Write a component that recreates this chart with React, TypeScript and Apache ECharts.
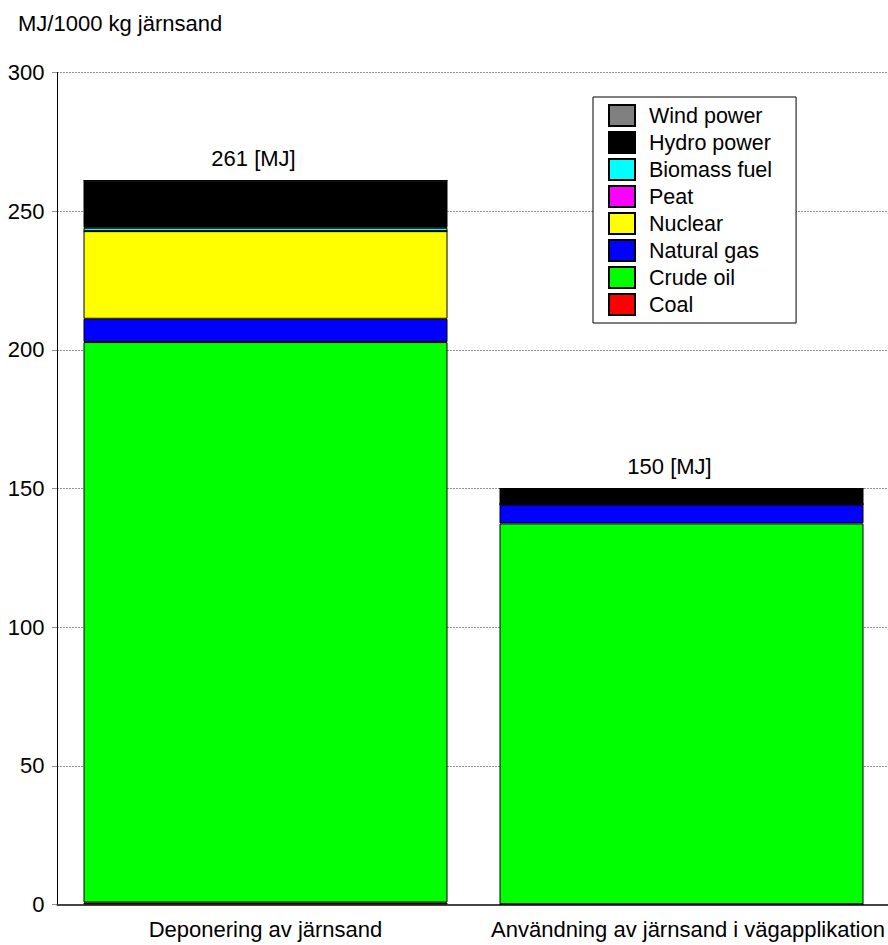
import React, { useEffect, useRef } from "react";
import * as echarts from "echarts";

// Energy use per 1000 kg of iron sand, split by energy source (MJ)
const categories = [
  "Deponering av järnsand",
  "Användning av järnsand i vägapplikation",
];

// Stacking order, bottom to top
const sourceNames = [
  "Coal",
  "Crude oil",
  "Natural gas",
  "Nuclear",
  "Peat",
  "Biomass fuel",
  "Hydro power",
  "Wind power",
];

const coal = [0.7, 0.1];
const crudeOil = [202.1, 137.3];
const naturalGas = [8.4, 6.8];
const nuclear = [31.6, 0.2];
const peat = [0, 0];
const biomassFuel = [1.2, 0];
const hydroPower = [17.0, 5.6];
const windPower = [0, 0];

const yTicks = { min: 0, max: 300, interval: 50 };
const axisTitle = "MJ/1000 kg järnsand";
const totalUnit = "[MJ]";

const sourceValues = [
  coal,
  crudeOil,
  naturalGas,
  nuclear,
  peat,
  biomassFuel,
  hydroPower,
  windPower,
];

const sourceColors = [
  "#ff0000",
  "#00ff00",
  "#0000ff",
  "#ffff00",
  "#ff00ff",
  "#00ffff",
  "#000000",
  "#808080",
];

const totals = categories.map((_, i) =>
  sourceValues.reduce((s, arr) => s + arr[i], 0)
);

const FONT = "'Liberation Sans', Arial, Helvetica, sans-serif";

export default function App() {
  const ref = useRef<HTMLDivElement>(null);

  useEffect(() => {
    if (!ref.current) return;
    const chart = echarts.init(ref.current, null, { renderer: "svg" });

    const series = sourceNames.map((name, si) => {
      const isTop = si === sourceNames.length - 1;
      return {
        name,
        type: "bar",
        stack: "energy",
        barCategoryGap: "12.5%",
        data: sourceValues[si],
        itemStyle: {
          color: sourceColors[si],
          borderColor: "#000",
          borderWidth: 1,
        },
        label: isTop
          ? {
              show: true,
              position: "top",
              distance: 11,
              offset: [-12, 0],
              fontFamily: FONT,
              fontSize: 22,
              color: "#000",
              formatter: (p: any) =>
                `${Math.round(totals[p.dataIndex])} ${totalUnit}`,
            }
          : { show: false },
        emphasis: { disabled: true },
      };
    });

    chart.setOption({
      animation: false,
      backgroundColor: "#fff",
      textStyle: { fontFamily: FONT },
      title: {
        text: axisTitle,
        left: 18,
        top: 12,
        padding: 0,
        textStyle: {
          fontFamily: FONT,
          fontSize: 22,
          fontWeight: "normal",
          color: "#000",
          lineHeight: 22,
        },
      },
      grid: {
        left: 57.5,
        right: -1.5,
        top: 72.5,
        bottom: 40.5,
        containLabel: false,
        outerBoundsMode: "none",
      },
      legend: {
        orient: "vertical",
        left: 593,
        top: 97,
        padding: [7, 24, 7, 15],
        itemWidth: 26,
        itemHeight: 21,
        itemGap: 4,
        icon: "rect",
        borderColor: "#000",
        borderWidth: 1,
        backgroundColor: "#fff",
        selectedMode: false,
        data: [...sourceNames].reverse(),
        textStyle: {
          fontFamily: FONT,
          fontSize: 21.5,
          color: "#000",
          lineHeight: 10,
          padding: [9, 0, 0, 9],
        },
      },
      xAxis: {
        type: "category",
        data: categories.map((c, i) =>
          i === 1 ? { value: c, textStyle: { padding: [0, 0, 0, 13] } } : c
        ),
        axisLine: { show: true, lineStyle: { color: "#444", width: 2 } },
        axisTick: { show: false },
        axisLabel: {
          fontFamily: FONT,
          fontSize: 22,
          color: "#000",
          margin: 13.5,
          interval: 0,
        },
        splitLine: { show: false },
      },
      yAxis: {
        type: "value",
        min: yTicks.min,
        max: yTicks.max,
        interval: yTicks.interval,
        axisLine: { show: true, lineStyle: { color: "#000", width: 1 } },
        axisTick: {
          show: true,
          length: 5,
          lineStyle: { color: "#222", type: "dotted" },
        },
        axisLabel: {
          fontFamily: FONT,
          fontSize: 22,
          color: "#000",
          margin: 13,
          padding: [0, 0, 5, 0],
        },
        splitLine: {
          show: true,
          lineStyle: { color: "#222", width: 1, type: [1, 2] },
        },
      },
      series,
    });

    return () => chart.dispose();
  }, []);

  return (
    <div
      ref={ref}
      style={{
        position: "absolute",
        left: 0,
        top: 0,
        width: 888,
        height: 945,
      }}
    />
  );
}
